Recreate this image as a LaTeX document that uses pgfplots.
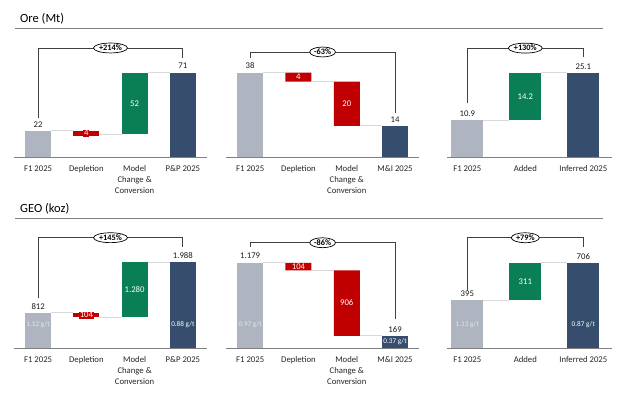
\documentclass[border=0pt]{standalone}
\usepackage{pgfplots}
\pgfplotsset{compat=1.18}
\usepackage{fontspec}
\setmainfont{Carlito}
\usetikzlibrary{shapes.geometric}
\definecolor{cgray}{HTML}{AEB5C0}
\definecolor{cred}{HTML}{C00000}
\definecolor{cgreen}{HTML}{0A7F55}
\definecolor{cnavy}{HTML}{364D6E}
\definecolor{conn}{HTML}{D9D9D9}
\definecolor{axgray}{HTML}{808080}
\definecolor{brk}{HTML}{404040}
\definecolor{gtlab}{HTML}{E4E7EC}
\pgfplotsset{
  wf/.style={
    ybar stacked, bar width=26pt, ymin=0, enlargelimits=false,
    xmin=-0.5, xmax=3.5,
    axis x line*=bottom, axis y line=none, ytick=\empty,
    axis line style={draw=axgray, line width=0.7pt},
    xtick={0,1,2,3}, major tick length=0pt,
    xticklabel style={font=\fontsize{8.7}{11}\selectfont, align=center, text=black!85, yshift=-5pt},
    clip=false, anchor=south west,
  },
  b/.style={draw=none, fill=#1},
}
\tikzset{
  cn/.style={draw=conn, line width=1pt},
  val/.style={font=\fontsize{8.7}{10}\selectfont, text=black!90, inner sep=1.5pt, yshift=2pt},
  inl/.style={font=\fontsize{8.7}{10}\selectfont, text=white, inner sep=1pt},
  rbox/.style={font=\fontsize{8.7}{10}\selectfont, text=white, fill=cred, inner sep=0.8pt},
  gt/.style={font=\fontsize{7.2}{8}\selectfont, text=#1, inner sep=0.5pt},
  bk/.style={draw=brk, line width=0.9pt},
  pct/.style={ellipse, draw=black, line width=0.7pt, fill=white, inner sep=0.6pt, font=\bfseries\fontsize{8.3}{9}\selectfont},
}
\begin{document}
\begin{tikzpicture}
\path[use as bounding box] (0pt,0pt) rectangle (637pt,394pt);
% section titles and rules
\node[anchor=west, inner sep=0pt, font=\fontsize{12.5}{14}\selectfont] at (20pt,375.5pt) {Ore (Mt)};
\draw[axgray, line width=0.7pt] (15pt,366pt) -- (603pt,366pt);
\node[anchor=west, inner sep=0pt, font=\fontsize{12.5}{14}\selectfont] at (20pt,185.5pt) {GEO (koz)};
\draw[axgray, line width=0.7pt] (15pt,176pt) -- (603pt,176pt);

% ---------- Top panel 1 ----------
\begin{axis}[wf, at={(14pt,237pt)}, x=48.25pt, y=1.19pt, ymax=90,
  xticklabels={F1 2025,Depletion,{Model\\Change \&\\Conversion},P\&P 2025},
  after end axis/.code={
    \draw[cn] (axis cs:0.27,22) -- (axis cs:0.73,22);
    \draw[cn] (axis cs:1.27,18.5) -- (axis cs:1.73,18.5);
    \draw[cn] (axis cs:2.27,71) -- (axis cs:2.73,71);
    \node[val, anchor=south] at (axis cs:0,22) {22};
    \node[val, anchor=south] at (axis cs:3,71) {71};
    \node[rbox] at (axis cs:1,20) {4};
    \node[inl] at (axis cs:2,45) {52};
    \draw[bk] (axis cs:0,32.8) |- (axis cs:3,91.6) -- (axis cs:3,83.2);
    \node[pct] at (axis cs:1.5,91.6) {+214\%};
  }]
\addplot[b=none] coordinates {(0,0)(1,18)(2,19)(3,0)};
\addplot[b=cgray] coordinates {(0,22)(1,0)(2,0)(3,0)};
\addplot[b=cred] coordinates {(0,0)(1,4)(2,0)(3,0)};
\addplot[b=cgreen] coordinates {(0,0)(1,0)(2,52)(3,0)};
\addplot[b=cnavy] coordinates {(0,0)(1,0)(2,0)(3,71)};
\end{axis}

% ---------- Top panel 2 ----------
\begin{axis}[wf, at={(226pt,237pt)}, x=48.3pt, y=2.22pt, ymax=45,
  xticklabels={F1 2025,Depletion,{Model\\Change \&\\Conversion},M\&I 2025},
  after end axis/.code={
    \draw[cn] (axis cs:0.27,38) -- (axis cs:0.73,38);
    \draw[cn] (axis cs:1.27,34) -- (axis cs:1.73,34);
    \draw[cn] (axis cs:2.27,14) -- (axis cs:2.73,14);
    \node[val, anchor=south] at (axis cs:0,38) {38};
    \node[val, anchor=south] at (axis cs:3,14) {14};
    \node[inl] at (axis cs:1,36) {4};
    \node[inl] at (axis cs:2,24) {20};
    \draw[bk] (axis cs:0,44.6) |- (axis cs:3,47.3) -- (axis cs:3,19.8);
    \node[pct] at (axis cs:1.5,47.3) {-63\%};
  }]
\addplot[b=none] coordinates {(0,0)(1,34)(2,14)(3,0)};
\addplot[b=cgray] coordinates {(0,38)(1,0)(2,0)(3,0)};
\addplot[b=cred] coordinates {(0,0)(1,4)(2,20)(3,0)};
\addplot[b=cnavy] coordinates {(0,0)(1,0)(2,0)(3,14)};
\end{axis}

% ---------- Top panel 3 ----------
\begin{axis}[wf, at={(447pt,237pt)}, x=58pt, y=3.35pt, ymax=30,
  xmin=-0.35, xmax=2.5, xtick={0,1,2}, bar width=32pt,
  xticklabels={F1 2025,Added,Inferred 2025},
  after end axis/.code={
    \draw[cn] (axis cs:0.276,10.9) -- (axis cs:0.724,10.9);
    \draw[cn] (axis cs:1.276,25.1) -- (axis cs:1.724,25.1);
    \node[val, anchor=south] at (axis cs:0,10.9) {10.9};
    \node[val, anchor=south] at (axis cs:2,25.1) {25.1};
    \node[inl] at (axis cs:1,18) {14.2};
    \draw[bk] (axis cs:0,16.1) |- (axis cs:2,32.5) -- (axis cs:2,29.9);
    \node[pct] at (axis cs:1,32.5) {+130\%};
  }]
\addplot[b=none] coordinates {(0,0)(1,10.9)(2,0)};
\addplot[b=cgray] coordinates {(0,10.9)(1,0)(2,0)};
\addplot[b=cgreen] coordinates {(0,0)(1,14.2)(2,0)};
\addplot[b=cnavy] coordinates {(0,0)(1,0)(2,25.1)};
\end{axis}

% ---------- Bottom panel 1 ----------
\begin{axis}[wf, at={(14pt,46pt)}, x=48.25pt, y=0.0432pt, ymax=2500,
  xticklabels={F1 2025,Depletion,{Model\\Change \&\\Conversion},P\&P 2025},
  after end axis/.code={
    \draw[cn] (axis cs:0.27,812) -- (axis cs:0.73,812);
    \draw[cn] (axis cs:1.27,708) -- (axis cs:1.73,708);
    \draw[cn] (axis cs:2.27,1988) -- (axis cs:2.73,1988);
    \node[val, anchor=south] at (axis cs:0,812) {812};
    \node[val, anchor=south] at (axis cs:3,1988) {1.988};
    \node[rbox] at (axis cs:1,760) {104};
    \node[inl] at (axis cs:2,1348) {1.280};
    \node[gt=gtlab] at (axis cs:0,532) {1.12 g/t};
    \node[gt=white] at (axis cs:3,532) {0.88 g/t};
    \draw[bk] (axis cs:0,1157) |- (axis cs:3,2553) -- (axis cs:3,2345);
    \node[pct] at (axis cs:1.5,2553) {+145\%};
  }]
\addplot[b=none] coordinates {(0,0)(1,708)(2,708)(3,0)};
\addplot[b=cgray] coordinates {(0,812)(1,0)(2,0)(3,0)};
\addplot[b=cred] coordinates {(0,0)(1,104)(2,0)(3,0)};
\addplot[b=cgreen] coordinates {(0,0)(1,0)(2,1280)(3,0)};
\addplot[b=cnavy] coordinates {(0,0)(1,0)(2,0)(3,1988)};
\end{axis}

% ---------- Bottom panel 2 ----------
\begin{axis}[wf, at={(226pt,46pt)}, x=48.3pt, y=0.0723pt, ymax=1400,
  xticklabels={F1 2025,Depletion,{Model\\Change \&\\Conversion},M\&I 2025},
  after end axis/.code={
    \draw[cn] (axis cs:0.27,1179) -- (axis cs:0.73,1179);
    \draw[cn] (axis cs:1.27,1075) -- (axis cs:1.73,1075);
    \draw[cn] (axis cs:2.27,169) -- (axis cs:2.73,169);
    \node[val, anchor=south] at (axis cs:0,1179) {1.179};
    \node[val, anchor=south] at (axis cs:3,169) {169};
    \node[inl] at (axis cs:1,1127) {104};
    \node[inl] at (axis cs:2,622) {906};
    \node[gt=gtlab] at (axis cs:0,318) {0.97 g/t};
    \node[gt=white] at (axis cs:3,84.5) {0.37 g/t};
    \draw[bk] (axis cs:0,1401) |- (axis cs:3,1456) -- (axis cs:3,401);
    \node[pct] at (axis cs:1.5,1456) {-86\%};
  }]
\addplot[b=none] coordinates {(0,0)(1,1075)(2,169)(3,0)};
\addplot[b=cgray] coordinates {(0,1179)(1,0)(2,0)(3,0)};
\addplot[b=cred] coordinates {(0,0)(1,104)(2,906)(3,0)};
\addplot[b=cnavy] coordinates {(0,0)(1,0)(2,0)(3,169)};
\end{axis}

% ---------- Bottom panel 3 ----------
\begin{axis}[wf, at={(447pt,46pt)}, x=58pt, y=0.1205pt, ymax=850,
  xmin=-0.35, xmax=2.5, xtick={0,1,2}, bar width=32pt,
  xticklabels={F1 2025,Added,Inferred 2025},
  after end axis/.code={
    \draw[cn] (axis cs:0.276,395) -- (axis cs:0.724,395);
    \draw[cn] (axis cs:1.276,706) -- (axis cs:1.724,706);
    \node[val, anchor=south] at (axis cs:0,395) {395};
    \node[val, anchor=south] at (axis cs:2,706) {706};
    \node[inl] at (axis cs:1,550.5) {311};
    \node[gt=gtlab] at (axis cs:0,191) {1.13 g/t};
    \node[gt=white] at (axis cs:2,191) {0.87 g/t};
    \draw[bk] (axis cs:0,473) |- (axis cs:2,915) -- (axis cs:2,838);
    \node[pct] at (axis cs:1,915) {+79\%};
  }]
\addplot[b=none] coordinates {(0,0)(1,395)(2,0)};
\addplot[b=cgray] coordinates {(0,395)(1,0)(2,0)};
\addplot[b=cgreen] coordinates {(0,0)(1,311)(2,0)};
\addplot[b=cnavy] coordinates {(0,0)(1,0)(2,706)};
\end{axis}
\end{tikzpicture}
\end{document}
